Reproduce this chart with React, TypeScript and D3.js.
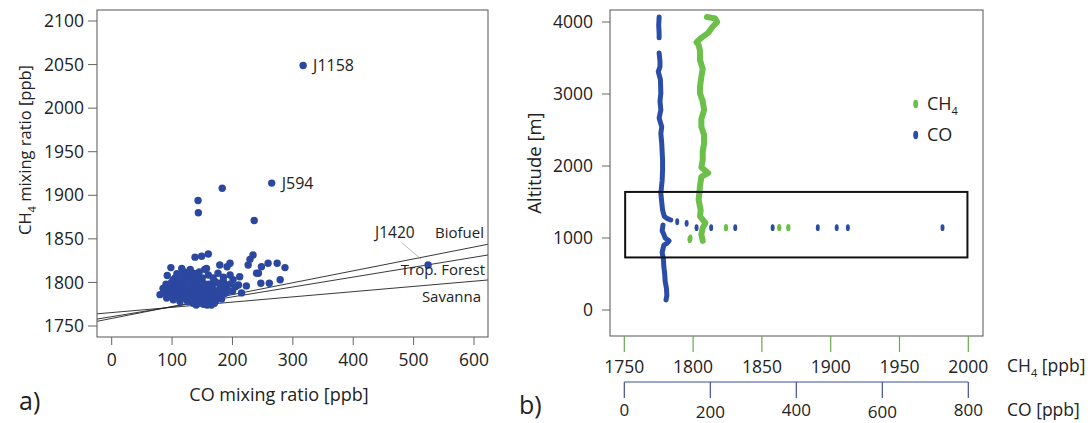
import React from "react";
import * as d3 from "d3";

// ---------- Panel a) data ----------
const coTicksA = [0, 100, 200, 300, 400, 500, 600];
const ch4TicksA = [1750, 1800, 1850, 1900, 1950, 2000, 2050, 2100];

// [CO ppb, CH4 ppb]
const scatterPoints: [number, number][] = [
  [317, 2049], [265, 1914], [183, 1908], [143, 1894], [143.5, 1880], [236, 1871], [524, 1820],
  [138, 1829], [160, 1832.6], [149, 1830], [234, 1831.5], [229, 1826.5], [226, 1820], [259, 1822],
  [274, 1822], [287, 1817], [248, 1818], [243, 1810.5], [279, 1803], [261, 1799], [247, 1799],
  [223, 1796], [210, 1797], [196, 1822], [179, 1820], [191, 1818], [157, 1816], [98, 1817],
  [116, 1816], [160, 1808.5], [176, 1810.5], [196, 1808.5], [212, 1806.6], [201, 1803], [185, 1801],
  [168, 1799], [135, 1810.5], [118, 1806.6], [102, 1803], [85, 1793], [80, 1786], [91, 1782],
  [102, 1780], [113, 1778], [124, 1780], [135, 1776], [149, 1777], [163, 1779], [174, 1784],
  [166, 1791], [179, 1793], [188, 1787.5], [154, 1815], [240, 1810.5],
  [95, 1790], [100, 1795], [105, 1788], [110, 1798], [112, 1785], [118, 1792], [120, 1800],
  [122, 1787], [125, 1795], [128, 1783], [130, 1790], [132, 1802], [135, 1786], [138, 1796],
  [140, 1780], [142, 1791], [145, 1800], [147, 1785], [150, 1794], [152, 1788], [155, 1798],
  [157, 1782], [160, 1791], [162, 1786], [165, 1796], [170, 1788], [172, 1779], [150, 1805],
  [140, 1806], [127, 1806], [108, 1810], [145, 1812], [130, 1815], [90, 1798], [88, 1788],
  [96, 1784], [106, 1793], [115, 1782], [126, 1778], [137, 1783], [144, 1776], [155, 1778],
  [158, 1774], [170, 1776], [182, 1781], [178, 1799], [190, 1795], [200, 1790], [205, 1795],
  [215, 1788], [185, 1806], [168, 1805], [120, 1812], [105, 1805], [92, 1808],
  [140, 1774], [152, 1775], [165, 1774],
  [98, 1786], [103, 1791], [108, 1783], [110, 1802], [114, 1789], [116, 1796], [119, 1784],
  [121, 1803], [124, 1791], [127, 1799], [129, 1787], [131, 1795], [133, 1780], [134, 1806],
  [136, 1792], [139, 1788], [141, 1802], [143, 1784], [146, 1795], [148, 1790], [149, 1781],
  [151, 1799], [153, 1784], [156, 1793], [158, 1788], [161, 1798], [163, 1783], [167, 1793],
  [169, 1784], [171, 1801], [175, 1790], [177, 1786], [180, 1797], [184, 1791], [187, 1797],
  [193, 1790], [196, 1798], [112, 1808], [125, 1810], [138, 1810], [99, 1800], [93, 1794],
];

const pointLabels = [
  { name: "J1158", co: 317, ch4: 2049 },
  { name: "J594", co: 265, ch4: 1914 },
];

const sourceNames = ["Biofuel", "Trop. Forest", "Savanna"];
const sourceSlopes = [0.1366, 0.1136, 0.06]; // ppb CH4 per ppb CO
const backgroundCO = 88;
const backgroundCH4 = 1770.7;

// ---------- Panel b) data ----------
const altTicks = [0, 1000, 2000, 3000, 4000];
const ch4TicksB = [1750, 1800, 1850, 1900, 1950, 2000];
const coTicksB = [0, 200, 400, 600, 800];

// CO profile segments: [altitude m, CO ppb]
const coProfileTop: [number, number][] = [
  [4070, 81], [3950, 80], [3850, 81], [3780, 81],
];
const coProfileMid: [number, number][] = [
  [3570, 81], [3450, 83], [3379, 83], [3310, 79], [3200, 84], [3014, 85], [2900, 83],
  [2778, 85], [2667, 81], [2546, 87], [2450, 85], [2319, 87], [2200, 88], [2083, 89],
  [1944, 89], [1800, 88], [1620, 85], [1500, 87], [1389, 89], [1300, 93], [1273, 99], [1250, 108],
];
const coProfileLow: [number, number][] = [
  [1181, 90], [1100, 88], [1050, 92], [1000, 95], [960, 104], [930, 100], [900, 92], [800, 88],
  [700, 91], [600, 92], [500, 94], [400, 95], [300, 98], [200, 99], [140, 97],
];
const coIsolated: [number, number][] = [
  [1226, 123], [1204, 145], [1143, 168], [1143, 202], [1143, 258], [1143, 345],
  [1143, 450], [1143, 494], [1143, 520], [1143, 740],
];

// CH4 profile: [altitude m, CH4 ppb]
const ch4Profile: [number, number][] = [
  [4070, 1810], [4050, 1816], [4000, 1817.5], [3930, 1814], [3850, 1811], [3780, 1806],
  [3720, 1802.5], [3680, 1804], [3600, 1805], [3472, 1805], [3350, 1807], [3240, 1806],
  [3100, 1805], [3009, 1805], [2900, 1807], [2778, 1808], [2650, 1806], [2546, 1806],
  [2430, 1808], [2315, 1808], [2200, 1807], [2083, 1807], [1980, 1806], [1903, 1811],
  [1850, 1806], [1720, 1805], [1620, 1804.5], [1530, 1804], [1389, 1805.5], [1300, 1805],
  [1208, 1809], [1143, 1807], [1050, 1806], [960, 1807],
];
const ch4Isolated: [number, number][] = [
  [1000, 1798], [980, 1797.5], [1143, 1823.9], [1143, 1862.6], [1143, 1869.2],
];

// Highlight box: CO range and altitude range
const boxCO = [2, 798];
const boxAlt = [730, 1640];

const BLUE = "#2b47a0";
const BLUE2 = "#2a4ea8";
const GREEN = "#6cc04a";
const FONT = "'Open Sans', 'Noto Sans', sans-serif";

export default function App() {
  // panel a scales
  const xA = d3.scaleLinear().domain([0, 600]).range([111.7, 474]);
  const yA = d3.scaleLinear().domain([1750, 2100]).range([326, 21]);
  const fA = { l: 97, r: 488, t: 10, b: 337 };

  // panel b scales
  const xCH4 = d3.scaleLinear().domain([1750, 2000]).range([624.3, 968.3]);
  const xCO = d3.scaleLinear().domain([0, 800]).range([624.3, 968.3]);
  const yAlt = d3.scaleLinear().domain([0, 4000]).range([310, 22]);
  const fB = { l: 610, r: 983, t: 10, b: 336 };

  const coLine = d3
    .line<[number, number]>()
    .x((d) => xCO(d[1]))
    .y((d) => yAlt(d[0]));
  const ch4Line = d3
    .line<[number, number]>()
    .x((d) => xCH4(d[1]))
    .y((d) => yAlt(d[0]));

  const coL = xA.invert(fA.l);
  const coR = xA.invert(fA.r);

  return (
    <svg
      width={1091}
      height={423}
      style={{ position: "absolute", left: 0, top: 0, background: "#fff" }}
      fontFamily={FONT}
    >
      <rect x={0} y={0} width={1091} height={423} fill="#fff" />
      <defs>
        <clipPath id="clipA">
          <rect x={fA.l} y={fA.t} width={fA.r - fA.l} height={fA.b - fA.t} />
        </clipPath>
      </defs>

      {/* ===== Panel a ===== */}
      <g clipPath="url(#clipA)">
        {sourceSlopes.map((s, i) => (
          <line
            key={sourceNames[i]}
            x1={fA.l}
            x2={fA.r}
            y1={yA(backgroundCH4 + s * (coL - backgroundCO))}
            y2={yA(backgroundCH4 + s * (coR - backgroundCO))}
            stroke="#222"
            strokeWidth={0.9}
          />
        ))}
        {scatterPoints.map((p, i) => (
          <circle key={i} cx={xA(p[0])} cy={yA(p[1])} r={3.7} fill={BLUE} />
        ))}
      </g>
      <rect x={fA.l} y={fA.t} width={fA.r - fA.l} height={fA.b - fA.t} fill="none" stroke="#555" strokeWidth={1} />
      {ch4TicksA.map((t) => (
        <g key={t}>
          <line x1={fA.l - 9} x2={fA.l} y1={yA(t)} y2={yA(t)} stroke="#666" />
          <text x={fA.l - 13} y={yA(t)} dy="0.35em" textAnchor="end" fontSize={17.5} fill="#222">
            {t}
          </text>
        </g>
      ))}
      {coTicksA.map((t) => (
        <g key={t}>
          <line x1={xA(t)} x2={xA(t)} y1={fA.b} y2={fA.b + 8} stroke="#666" />
          <text x={xA(t)} y={360} dy="0.35em" textAnchor="middle" fontSize={17.5} fill="#222">
            {t}
          </text>
        </g>
      ))}
      <text x={279} y={395} dy="0.35em" textAnchor="middle" fontSize={18} fill="#222">
        CO mixing ratio [ppb]
      </text>
      <text transform="translate(25,150) rotate(-90)" textAnchor="middle" dy="0.35em" fontSize={16.5} fill="#222">
        CH<tspan dy={5} fontSize={11}>4</tspan>
        <tspan dy={-5}> mixing ratio [ppb]</tspan>
      </text>
      {pointLabels.map((l) => (
        <text key={l.name} x={xA(l.co) + 10} y={yA(l.ch4)} dy="0.35em" fontSize={16} fill="#222">
          {l.name}
        </text>
      ))}
      <text x={375} y={233} dy="0.35em" fontSize={15.5} fill="#222">J1420</text>
      <line x1={402} y1={243} x2={421} y2={259} stroke="#999" strokeWidth={0.7} />
      <text x={484} y={233} dy="0.35em" textAnchor="end" fontSize={15} fill="#222">Biofuel</text>
      <text x={485} y={270} dy="0.35em" textAnchor="end" fontSize={15} fill="#222">Trop. Forest</text>
      <text x={481} y={297} dy="0.35em" textAnchor="end" fontSize={15} fill="#222">Savanna</text>
      <text x={19} y={410} fontSize={25} fill="#222">a)</text>

      {/* ===== Panel b ===== */}
      <rect x={fB.l} y={fB.t} width={fB.r - fB.l} height={fB.b - fB.t} fill="none" stroke="#555" strokeWidth={1} />
      {altTicks.map((t) => (
        <g key={t}>
          <line x1={fB.l - 8} x2={fB.l} y1={yAlt(t)} y2={yAlt(t)} stroke="#666" />
          <text x={fB.l - 17} y={yAlt(t)} dy="0.35em" textAnchor="end" fontSize={17.5} fill="#222">
            {t}
          </text>
        </g>
      ))}
      <text transform="translate(535,163) rotate(-90)" textAnchor="middle" dy="0.35em" fontSize={18.5} fill="#222">
        Altitude [m]
      </text>

      {/* profiles */}
      <path d={ch4Line(ch4Profile) || ""} fill="none" stroke={GREEN} strokeWidth={6} strokeLinejoin="round" strokeLinecap="round" />
      {[coProfileTop, coProfileMid, coProfileLow].map((seg, i) => (
        <path key={i} d={coLine(seg) || ""} fill="none" stroke={BLUE2} strokeWidth={5} strokeLinejoin="round" strokeLinecap="round" />
      ))}
      {ch4Isolated.map((d, i) => (
        <ellipse key={"g" + i} cx={xCH4(d[1])} cy={yAlt(d[0])} rx={2.2} ry={3.6} fill={GREEN} />
      ))}
      {coIsolated.map((d, i) => (
        <ellipse key={"b" + i} cx={xCO(d[1])} cy={yAlt(d[0])} rx={2} ry={3.4} fill={BLUE2} />
      ))}

      {/* highlight box */}
      <rect
        x={xCO(boxCO[0])}
        y={yAlt(boxAlt[1])}
        width={xCO(boxCO[1]) - xCO(boxCO[0])}
        height={yAlt(boxAlt[0]) - yAlt(boxAlt[1])}
        fill="none"
        stroke="#111"
        strokeWidth={2}
      />

      {/* legend */}
      <ellipse cx={915.7} cy={104} rx={2.5} ry={4.2} fill={GREEN} />
      <text x={927} y={104} dy="0.35em" fontSize={18} fill="#222">
        CH<tspan dy={5} fontSize={11}>4</tspan>
      </text>
      <ellipse cx={915.7} cy={135} rx={2.5} ry={4.2} fill={BLUE2} />
      <text x={927} y={135} dy="0.35em" fontSize={18} fill="#222">CO</text>

      {/* CH4 axis */}
      {ch4TicksB.map((t) => (
        <g key={t}>
          <line x1={xCH4(t)} x2={xCH4(t)} y1={fB.b} y2={352} stroke="#6aa84f" strokeWidth={1.2} />
          <text x={xCH4(t)} y={366.5} dy="0.35em" textAnchor="middle" fontSize={17.5} fill="#222">
            {t}
          </text>
        </g>
      ))}
      <text x={1007} y={366} dy="0.35em" fontSize={17.5} fill="#222">
        CH<tspan dy={5} fontSize={11}>4</tspan>
        <tspan dy={-5}> [ppb]</tspan>
      </text>

      {/* CO axis */}
      <line x1={xCO(0)} x2={xCO(800)} y1={382} y2={382} stroke="#3b4fa0" strokeWidth={1.2} />
      {coTicksB.map((t, i) => (
        <g key={t}>
          <line x1={xCO(t)} x2={xCO(t)} y1={382} y2={398} stroke="#3b4fa0" strokeWidth={1.2} />
          <text x={xCO(t)} y={i % 2 === 0 ? 410 : 412} dy="0.35em" textAnchor="middle" fontSize={17} fill="#222">
            {t}
          </text>
        </g>
      ))}
      <text x={1007} y={410} dy="0.35em" fontSize={17.5} fill="#222">CO [ppb]</text>
      <text x={519} y={414} fontSize={25} fill="#222">b)</text>
    </svg>
  );
}
